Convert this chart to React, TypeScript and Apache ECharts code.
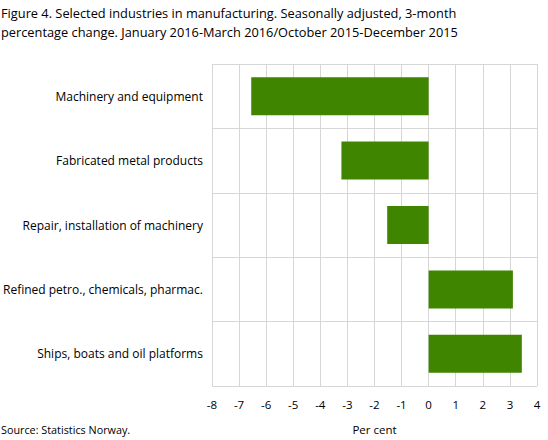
import React, { useEffect, useRef } from "react";
import * as echarts from "echarts";

const categories = [
  "Machinery and equipment",
  "Fabricated metal products",
  "Repair, installation of machinery",
  "Refined petro., chemicals, pharmac.",
  "Ships, boats and oil platforms",
];
const values = [-6.55, -3.22, -1.53, 3.11, 3.44];
const titleLines = [
  "Figure 4. Selected industries in manufacturing. Seasonally adjusted, 3-month",
  "percentage change. January 2016-March 2016/October 2015-December 2015",
];
const xAxisName = "Per cent";
const sourceText = "Source: Statistics Norway.";

const FONT = "'Open Sans', sans-serif";

export default function App() {
  const ref = useRef<HTMLDivElement>(null);
  useEffect(() => {
    document.body.style.margin = "0";
    const chart = echarts.init(ref.current!, null, { renderer: "svg" });
    chart.setOption({
      animation: false,
      textStyle: { fontFamily: FONT },
      title: {
        text: titleLines.join("\n"),
        left: 1,
        top: 4,
        padding: 0,
        textStyle: {
          fontFamily: FONT,
          fontSize: 12.8,
          fontWeight: "normal",
          color: "#000",
          lineHeight: 18.5,
        },
      },
      graphic: [
        {
          type: "text",
          left: 1,
          top: 424,
          style: { text: sourceText, font: `10.8px ${FONT}`, fill: "#000" },
        },
      ],
      grid: { left: 211, right: 11, top: 64, bottom: 54, containLabel: false },
      xAxis: {
        type: "value",
        min: -8,
        max: 4,
        interval: 1,
        name: xAxisName,
        nameLocation: "middle",
        nameGap: 37,
        nameTextStyle: { fontFamily: FONT, fontSize: 11.5, color: "#000" },
        axisLine: { show: false },
        axisTick: { show: false },
        axisLabel: { fontFamily: FONT, fontSize: 11.5, color: "#000", margin: 12 },
        splitLine: { show: true, lineStyle: { color: "#d6d6d6", width: 1 } },
      },
      yAxis: {
        type: "category",
        data: categories,
        inverse: true,
        axisLine: { show: false },
        axisTick: { show: false },
        axisLabel: { fontFamily: FONT, fontSize: 12, color: "#000", margin: 9 },
        splitLine: { show: true, lineStyle: { color: "#d6d6d6", width: 1 } },
      },
      series: [
        {
          type: "bar",
          data: values,
          barCategoryGap: "41%",
          itemStyle: { color: "#3f8500" },
        },
      ],
    });
    return () => chart.dispose();
  }, []);
  return <div ref={ref} style={{ width: 548, height: 440 }} />;
}
